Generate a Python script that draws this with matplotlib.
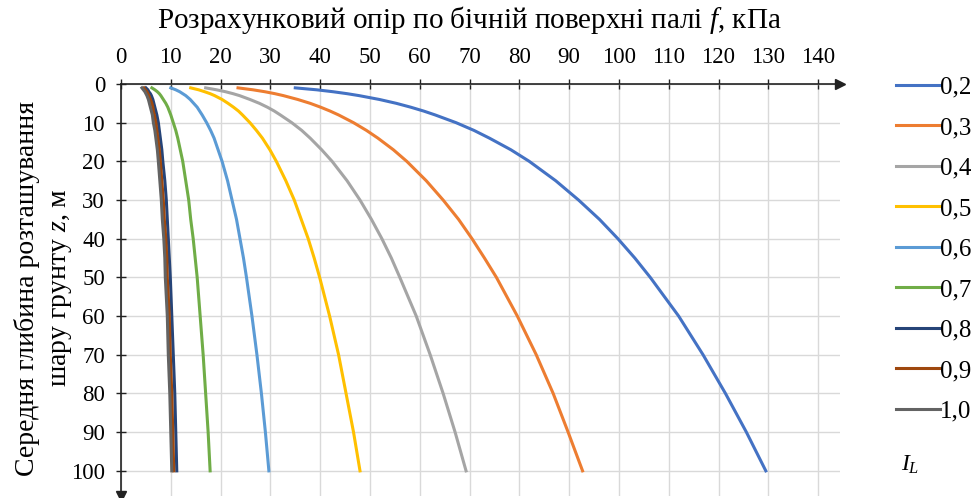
import numpy as np
import matplotlib
matplotlib.use("Agg")
import matplotlib.pyplot as plt

plt.rcParams["font.family"] = ["Liberation Serif", "DejaVu Serif"]
plt.rcParams["mathtext.fontset"] = "custom"
plt.rcParams["mathtext.rm"] = "Liberation Serif"
plt.rcParams["mathtext.it"] = "Liberation Serif:italic"

# depth of the soil layer, m
depth = [1, 1.5, 2, 2.5, 3, 4, 5, 6, 7, 8, 10, 12, 14, 17, 20, 25, 30, 35,
         40, 45, 50, 60, 70, 80, 90, 100]

# side resistance f, kPa, per liquidity index I_L
il_labels = ["0,2", "0,3", "0,4", "0,5", "0,6", "0,7", "0,8", "0,9", "1,0"]
f_02 = [35.0, 39.3, 42.6, 45.4, 47.8, 51.9, 55.3, 58.2, 60.8, 63.1, 67.3, 70.9, 74.0,
        78.3, 82.0, 87.3, 91.9, 96.1, 99.8, 103.2, 106.3, 112.0, 116.9, 121.4, 125.6, 129.5]
f_03 = [23.5, 26.5, 28.9, 30.9, 32.6, 35.5, 38.0, 40.1, 42.0, 43.7, 46.7, 49.3, 51.6,
        54.7, 57.4, 61.3, 64.7, 67.8, 70.5, 73.0, 75.4, 79.6, 83.4, 86.8, 89.8, 92.7]
f_04 = [17.0, 19.2, 21.0, 22.5, 23.8, 25.9, 27.8, 29.4, 30.8, 32.0, 34.3, 36.3, 38.0,
        40.3, 42.4, 45.4, 48.0, 50.3, 52.4, 54.3, 56.0, 59.3, 62.1, 64.7, 67.1, 69.3]
f_05 = [14.0, 15.6, 16.8, 17.9, 18.8, 20.3, 21.5, 22.6, 23.6, 24.4, 25.9, 27.2, 28.4,
        29.9, 31.2, 33.1, 34.8, 36.2, 37.6, 38.8, 39.9, 41.9, 43.7, 45.2, 46.7, 48.0]
f_06 = [10.0, 11.0, 11.8, 12.4, 13.0, 13.9, 14.6, 15.3, 15.8, 16.3, 17.2, 18.0, 18.7,
        19.5, 20.3, 21.4, 22.3, 23.2, 23.9, 24.6, 25.2, 26.3, 27.3, 28.2, 29.0, 29.7]
f_07 = [6.2, 6.8, 7.3, 7.7, 8.0, 8.5, 9.0, 9.4, 9.7, 10.0, 10.5, 11.0, 11.4,
        11.9, 12.4, 13.0, 13.6, 14.0, 14.5, 14.9, 15.3, 15.9, 16.5, 17.0, 17.5, 17.9]
f_08 = [5.0, 5.4, 5.6, 5.9, 6.1, 6.4, 6.6, 6.8, 7.0, 7.2, 7.5, 7.7, 7.9,
        8.2, 8.4, 8.8, 9.1, 9.3, 9.5, 9.7, 9.9, 10.2, 10.5, 10.8, 11.0, 11.2]
f_09 = [4.6, 4.9, 5.2, 5.4, 5.6, 5.9, 6.2, 6.4, 6.5, 6.7, 7.0, 7.2, 7.4,
        7.7, 7.9, 8.2, 8.5, 8.7, 9.0, 9.2, 9.3, 9.7, 9.9, 10.2, 10.4, 10.6]
f_10 = [4.2, 4.5, 4.8, 5.0, 5.2, 5.5, 5.7, 5.9, 6.1, 6.3, 6.5, 6.8, 7.0,
        7.3, 7.5, 7.8, 8.1, 8.3, 8.6, 8.8, 8.9, 9.3, 9.5, 9.8, 10.0, 10.2]

series = [f_02, f_03, f_04, f_05, f_06, f_07, f_08, f_09, f_10]
colors = ["#4472C4", "#ED7D31", "#A5A5A5", "#FFC000", "#5B9BD5",
          "#70AD47", "#264478", "#9E480E", "#636363"]

x_ticks = list(range(0, 141, 10))
y_ticks = list(range(0, 101, 10))

W, H = 980, 498
fig = plt.figure(figsize=(W / 100, H / 100), dpi=100)
ax = fig.add_axes([121 / W, 1 - 496 / H, (840 - 121) / W, (496 - 84) / H])

for vals, col, lab in zip(series, colors, il_labels):
    ax.plot(vals, depth, color=col, lw=2.2, label=lab)

ax.set_xlim(0, 144.4)
ax.set_ylim(106.5, 0)
ax.set_xticks(x_ticks)
ax.set_yticks(y_ticks)
ax.xaxis.tick_top()
ax.tick_params(axis="both", direction="inout", length=7, width=1.0,
               labelsize=16.5, color="#222222")
ax.tick_params(axis="x", pad=8)
ax.tick_params(axis="y", pad=8)
ax.grid(True, color="#D9D9D9", lw=1.0)
ax.set_axisbelow(True)

for side in ["right", "bottom"]:
    ax.spines[side].set_visible(False)
for side in ["left", "top"]:
    ax.spines[side].set_color("#222222")
    ax.spines[side].set_linewidth(1.2)

# arrow heads on the two axes
ax.plot(1, 1, marker=">", color="#222222", ms=7, transform=ax.transAxes, clip_on=False)
ax.plot(0, 0, marker="v", color="#222222", ms=7, transform=ax.transAxes, clip_on=False)

fig.text(469 / W, 1 - 20 / H, "Розрахунковий опір по бічній поверхні палі $\\it{f}$, кПа",
         ha="center", va="center", fontsize=21)
fig.text(27 / W, 1 - 288 / H, "Середня глибина розташування",
         ha="center", va="center", rotation=90, fontsize=20)
fig.text(62 / W, 1 - 288 / H, "шару грунту $\\it{z}$, м",
         ha="center", va="center", rotation=90, fontsize=20)

leg = fig.legend(loc="upper left", bbox_to_anchor=(896 / W, 1 - 76 / H),
                 frameon=False, fontsize=18, handlelength=1.75, handletextpad=0.0,
                 labelspacing=0.72, borderaxespad=0, borderpad=0)
fig.text(910 / W, 1 - 465 / H, "$\\it{I}_{\\it{L}}$", ha="center", va="center", fontsize=17)

fig.savefig("out.png", dpi=100)
